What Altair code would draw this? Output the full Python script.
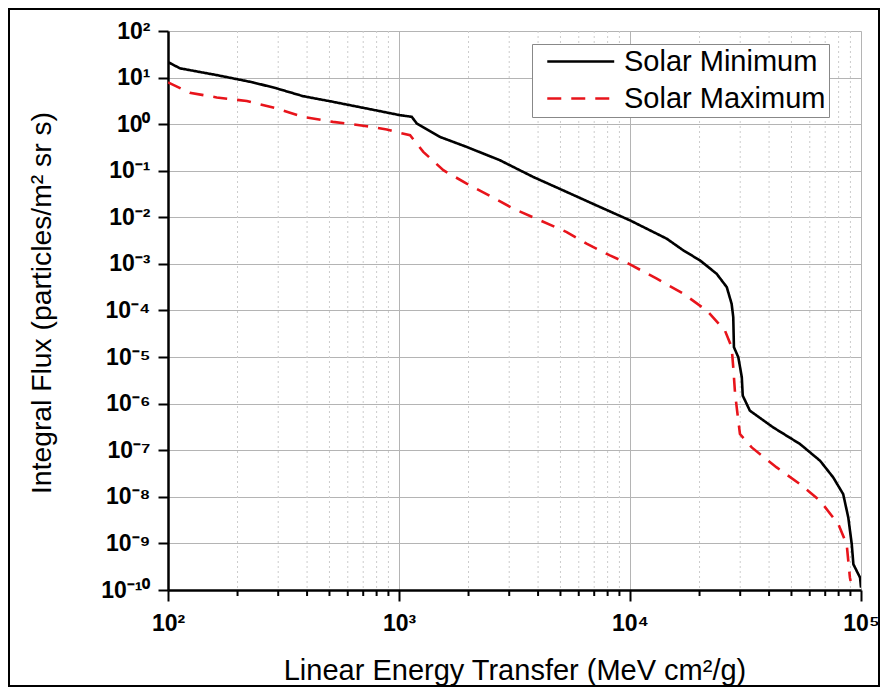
import altair as alt
import pandas as pd

# ---- data (log-log) ----
series_names = ["Solar Minimum", "Solar Maximum"]

let_min = [100, 112.7, 162.6, 233.3, 295.8, 383.7, 517.6, 724.4, 1009, 1135, 1194, 1503,
           1963, 2735, 3811, 5321, 7413, 10000, 14420, 17020, 20090, 23710, 26240, 27540,
           27990, 28180, 29440, 30480, 30760, 33040, 41690, 54450, 66530, 75860, 83750,
           88100, 91200, 92680, 99080, 100000]
flux_min = [21.5, 15.8, 11.3, 7.89, 5.85, 4.00, 3.02, 2.17, 1.56, 1.44, 1.035, 0.533,
            0.325, 0.168, 0.0736, 0.0350, 0.01667, 0.00861, 0.00348, 0.00195, 0.00119,
            6.15e-4, 3.17e-4, 1.39e-4, 7.18e-5, 1.63e-5, 9.9e-6, 3.68e-6, 1.49e-6, 7.06e-7,
            3.09e-7, 1.36e-7, 5.94e-8, 2.60e-8, 1.14e-8, 3.59e-9, 9.6e-10, 3.57e-10,
            1.84e-10, 1.12e-10]

let_max = [100, 124.2, 162.6, 219.3, 295.8, 383.7, 517.6, 724.4, 885, 1009, 1117, 1274,
           1556, 1963, 2559, 3126, 4074, 5321, 6486, 8185, 10000, 13060, 17020, 21480,
           25760, 27540, 27990, 28510, 29920, 33650, 43150, 54450, 66530, 79800, 86700,
           89540, 90160]
flux_max = [7.89, 4.71, 3.75, 3.13, 2.17, 1.44, 1.12, 0.906, 0.769, 0.652, 0.579, 0.254,
            0.1026, 0.0530, 0.0265, 0.01535, 0.00861, 0.00483, 0.00272, 0.00152, 9.77e-4,
            4.81e-4, 2.29e-4, 1.0e-4, 3.72e-5, 1.63e-5, 6.04e-6, 1.61e-6, 2.23e-7, 1.15e-7,
            4.28e-8, 1.87e-8, 8.2e-9, 2.59e-9, 9.6e-10, 1.84e-10, 1.56e-10]

x_major = [100, 1000, 10000, 100000]
x_minor = [200, 300, 400, 500, 600, 700, 800, 900,
           2000, 3000, 4000, 5000, 6000, 7000, 8000, 9000,
           20000, 30000, 40000, 50000, 60000, 70000, 80000, 90000]
y_major = [1e-10, 1e-9, 1e-8, 1e-7, 1e-6, 1e-5, 1e-4, 1e-3, 1e-2, 1e-1, 1, 10, 100]
x_tick_labels = ["10²", "10³", "10⁴", "10⁵"]
y_tick_labels = ["10⁻¹⁰", "10⁻⁹", "10⁻⁸", "10⁻⁷", "10⁻⁶", "10⁻⁵", "10⁻⁴", "10⁻³",
                 "10⁻²", "10⁻¹", "10⁰", "10¹", "10²"]

x_title = "Linear Energy Transfer (MeV cm²/g)"
y_title = "Integral Flux (particles/m² sr s)"

# ---- build tables ----
rows = []
for i, (a, b) in enumerate(zip(let_min, flux_min)):
    rows.append({"series": series_names[0], "let": a, "flux": b, "idx": i})
for i, (a, b) in enumerate(zip(let_max, flux_max)):
    rows.append({"series": series_names[1], "let": a, "flux": b, "idx": i})
df = pd.DataFrame(rows)

W, H = 693, 559
FONT = "Liberation Sans"

xscale = alt.Scale(type="log", domain=[100, 100000], nice=False)
yscale = alt.Scale(type="log", domain=[1e-10, 100], nice=False)

x_label_expr = "[" + ",".join("'%s'" % s for s in x_tick_labels) + "][round(log(datum.value)/LN10)-2]"
y_label_expr = "[" + ",".join("'%s'" % s for s in y_tick_labels) + "][round(log(datum.value)/LN10)+10]"

x_axis = alt.Axis(
    values=x_major, labelExpr=x_label_expr, title=x_title,
    labelFont=FONT, labelFontSize=23, labelFontWeight="bold", labelColor="black",
    labelBaseline="top", labelPadding=11, labelFlush=False, labelOverlap=False,
    tickSize=11, tickWidth=2, tickColor="black",
    domainColor="black", domainWidth=2.5,
    grid=True, gridColor="#b4b4b4", gridWidth=1,
    titleFont=FONT, titleFontSize=29, titleFontWeight="normal", titleColor="black",
    titleX=W / 2, titleY=89, titleBaseline="alphabetic", titleAlign="center",
)
y_axis = alt.Axis(
    values=y_major, labelExpr=y_label_expr, title=y_title,
    labelFont=FONT, labelFontSize=23, labelFontWeight="bold", labelColor="black",
    labelPadding=8, labelFlush=False, labelOverlap=False,
    tickSize=10, tickWidth=2, tickColor="black",
    domainColor="black", domainWidth=2.5,
    grid=True, gridColor="#b4b4b4", gridWidth=1,
    titleFont=FONT, titleFontSize=28.3, titleFontWeight="normal", titleColor="black",
    titleX=-126, titleY=H / 2 - 8, titleAngle=270, titleBaseline="middle", titleAlign="center",
)

legend = alt.Legend(
    title=None, orient="none", legendX=364, legendY=13,
    symbolType="M-0.2,0H5.8", symbolSize=498, symbolStrokeWidth=2.6,
    labelFont=FONT, labelFontSize=29, labelColor="black", labelOffset=60, labelLimit=400,
    strokeColor="#888888", fillColor="white", padding=3, rowPadding=7,
)

minor_grid = alt.Chart(pd.DataFrame({"m": x_minor})).mark_rule(
    color="#cccccc", strokeDash=[2, 3], strokeWidth=1
).encode(x=alt.X("m:Q", scale=xscale, axis=x_axis))

minor_ticks = alt.Chart(pd.DataFrame({"m": x_minor})).mark_rule(
    color="black", strokeWidth=2
).encode(x=alt.X("m:Q", scale=xscale, axis=x_axis), y=alt.value(H), y2=alt.value(H + 6))

lines = alt.Chart(df).mark_line(strokeWidth=2.6, clip=True).encode(
    x=alt.X("let:Q", scale=xscale, axis=x_axis),
    y=alt.Y("flux:Q", scale=yscale, axis=y_axis),
    color=alt.Color("series:N", scale=alt.Scale(domain=series_names, range=["#000000", "#e8141b"]),
                    legend=legend),
    strokeDash=alt.StrokeDash("series:N", scale=alt.Scale(domain=series_names, range=[[1, 0], [14, 10]]),
                              legend=legend),
    order="idx:Q",
)

frame = alt.Chart(pd.DataFrame({"a": [0]})).mark_rect(
    fillOpacity=0, stroke="black", strokeWidth=2
).encode(x=alt.value(-159), x2=alt.value(711), y=alt.value(-22), y2=alt.value(655))

chart = alt.layer(minor_grid, minor_ticks, lines, frame).properties(
    width=W, height=H,
    autosize=alt.AutoSizeParams(type="none"),
    padding={"left": 160, "top": 23, "right": 19, "bottom": 97},
).configure_view(stroke=None).configure(font=FONT, background="white")

chart.save("out.html", embed_options={"renderer": "svg", "actions": False})
